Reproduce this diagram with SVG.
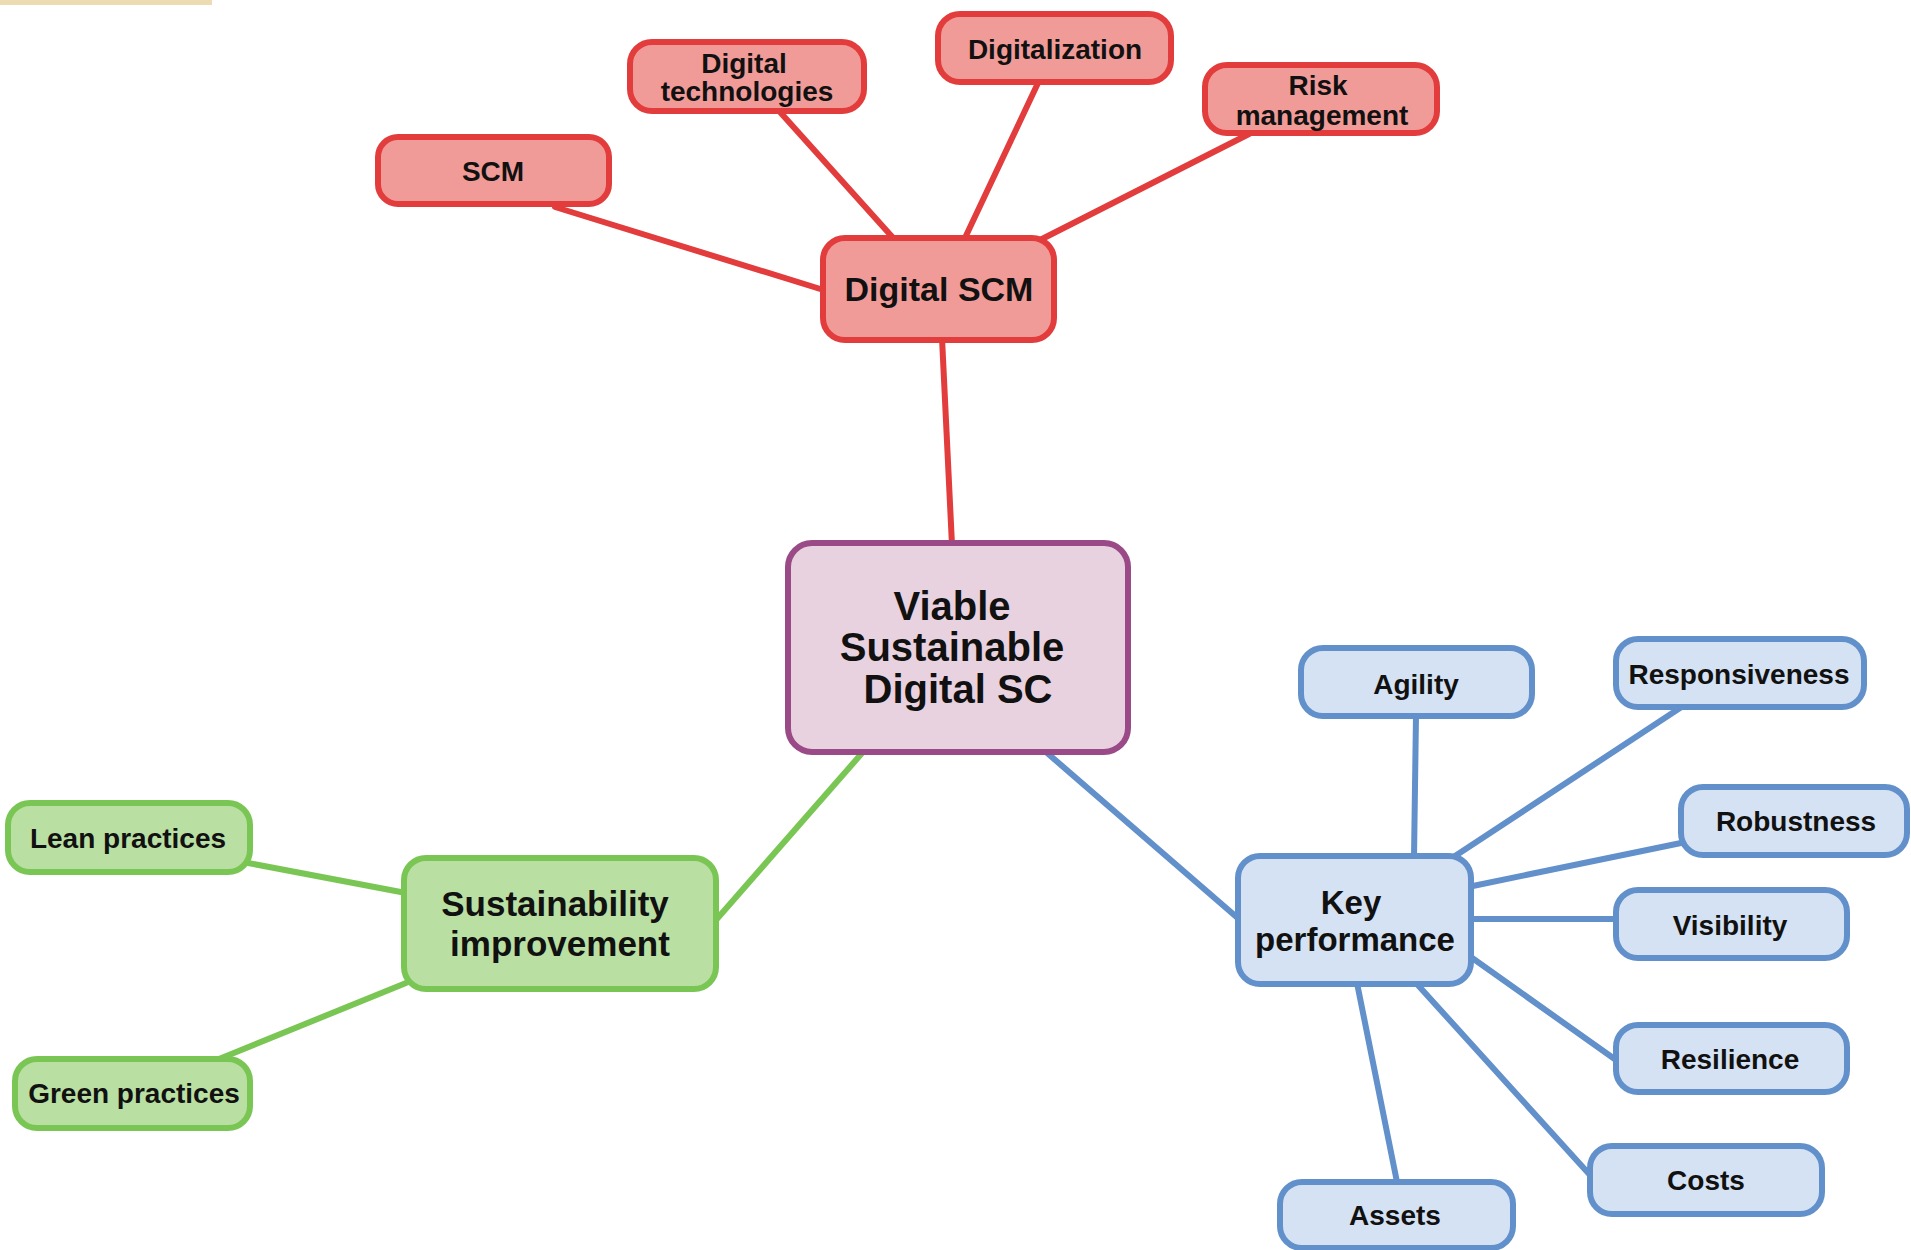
<svg xmlns="http://www.w3.org/2000/svg" width="1911" height="1250" viewBox="0 0 1911 1250">
  <style>
    text { font-family: "Liberation Sans", Arial, sans-serif; fill: #111; text-anchor: middle; }
    .sm { font-size: 28px; font-weight: bold; }
    .red rect { fill: #f19b98; stroke: #e23c3c; stroke-width: 6; }
    .green rect { fill: #badfa2; stroke: #7ac655; stroke-width: 6; }
    .blue rect { fill: #d5e2f3; stroke: #6190cb; stroke-width: 6; }
    .hub rect { fill: #e9d2e0; stroke: #9a4a86; stroke-width: 6; }
    #connectors line { stroke-width: 6; stroke-linecap: round; }
    .cr { stroke: #e23c3c; }
    .cg { stroke: #7ac655; }
    .cb { stroke: #6190cb; }
  </style>
  <rect width="1911" height="1250" fill="#ffffff"/>
  <rect x="0" y="0" width="212" height="5" fill="#eddcb2"/>

  <g id="connectors">
    <line class="cr" x1="555" y1="207" x2="830" y2="292"/>
    <line class="cr" x1="780" y1="112" x2="895" y2="240"/>
    <line class="cr" x1="1038" y1="83" x2="964" y2="240"/>
    <line class="cr" x1="1249" y1="134" x2="1040" y2="240"/>
    <line class="cr" x1="942" y1="338" x2="952" y2="545"/>
    <line class="cg" x1="863" y1="752" x2="716" y2="920"/>
    <line class="cg" x1="248" y1="863" x2="406" y2="893"/>
    <line class="cg" x1="219" y1="1059" x2="406" y2="983"/>
    <line class="cb" x1="1046" y1="752" x2="1240" y2="920"/>
    <line class="cb" x1="1416" y1="715" x2="1414" y2="858"/>
    <line class="cb" x1="1683" y1="706" x2="1452" y2="858"/>
    <line class="cb" x1="1681" y1="843" x2="1468" y2="887"/>
    <line class="cb" x1="1616" y1="919" x2="1468" y2="919"/>
    <line class="cb" x1="1616" y1="1060" x2="1468" y2="955"/>
    <line class="cb" x1="1590" y1="1175" x2="1416" y2="983"/>
    <line class="cb" x1="1397" y1="1182" x2="1357" y2="983"/>
  </g>

  <!-- digital supply chain branch -->
  <g id="node-scm" class="red">
    <rect x="378" y="137" width="231" height="67" rx="20"/>
    <text class="sm" x="493" y="181">SCM</text>
  </g>
  <g id="node-digital-technologies" class="red">
    <rect x="630" y="42" width="234" height="69" rx="22"/>
    <text class="sm" x="744" y="73">Digital</text>
    <text class="sm" x="747" y="101">technologies</text>
  </g>
  <g id="node-digitalization" class="red">
    <rect x="938" y="14" width="233" height="68" rx="22"/>
    <text class="sm" x="1055" y="59">Digitalization</text>
  </g>
  <g id="node-risk-management" class="red">
    <rect x="1205" y="65" width="232" height="68" rx="22"/>
    <text class="sm" x="1318" y="95">Risk</text>
    <text class="sm" x="1322" y="125">management</text>
  </g>
  <g id="node-digital-scm" class="red">
    <rect x="823" y="238" width="231" height="102" rx="22"/>
    <text x="939" y="301" style="font-size:34px;font-weight:bold">Digital SCM</text>
  </g>

  <!-- central concept -->
  <g id="node-vsdsc" class="hub">
    <rect x="788" y="543" width="340" height="209" rx="24"/>
    <text x="952" y="620" style="font-size:40px;font-weight:bold">Viable</text>
    <text x="952" y="661" style="font-size:40px;font-weight:bold">Sustainable</text>
    <text x="958" y="703" style="font-size:40px;font-weight:bold">Digital SC</text>
  </g>

  <!-- sustainability branch -->
  <g id="node-sustainability" class="green">
    <rect x="404" y="858" width="312" height="131" rx="22"/>
    <text x="555" y="916" style="font-size:35px;font-weight:bold">Sustainability</text>
    <text x="560" y="956" style="font-size:35px;font-weight:bold">improvement</text>
  </g>
  <g id="node-lean" class="green">
    <rect x="8" y="803" width="242" height="69" rx="22"/>
    <text class="sm" x="128" y="848">Lean practices</text>
  </g>
  <g id="node-green" class="green">
    <rect x="15" y="1059" width="235" height="69" rx="22"/>
    <text class="sm" x="134" y="1103">Green practices</text>
  </g>

  <!-- performance branch -->
  <g id="node-key-performance" class="blue">
    <rect x="1238" y="856" width="233" height="128" rx="22"/>
    <text x="1351" y="914" style="font-size:33px;font-weight:bold">Key</text>
    <text x="1355" y="951" style="font-size:33px;font-weight:bold">performance</text>
  </g>
  <g id="node-agility" class="blue">
    <rect x="1301" y="648" width="231" height="68" rx="22"/>
    <text class="sm" x="1416" y="694">Agility</text>
  </g>
  <g id="node-responsiveness" class="blue">
    <rect x="1616" y="639" width="248" height="68" rx="22"/>
    <text class="sm" x="1739" y="684">Responsiveness</text>
  </g>
  <g id="node-robustness" class="blue">
    <rect x="1681" y="787" width="226" height="68" rx="22"/>
    <text class="sm" x="1796" y="831">Robustness</text>
  </g>
  <g id="node-visibility" class="blue">
    <rect x="1616" y="890" width="231" height="68" rx="22"/>
    <text class="sm" x="1730" y="935">Visibility</text>
  </g>
  <g id="node-resilience" class="blue">
    <rect x="1616" y="1025" width="231" height="67" rx="22"/>
    <text class="sm" x="1730" y="1069">Resilience</text>
  </g>
  <g id="node-costs" class="blue">
    <rect x="1590" y="1146" width="232" height="68" rx="22"/>
    <text class="sm" x="1706" y="1190">Costs</text>
  </g>
  <g id="node-assets" class="blue">
    <rect x="1280" y="1182" width="233" height="66" rx="22"/>
    <text class="sm" x="1395" y="1225">Assets</text>
  </g>
</svg>
